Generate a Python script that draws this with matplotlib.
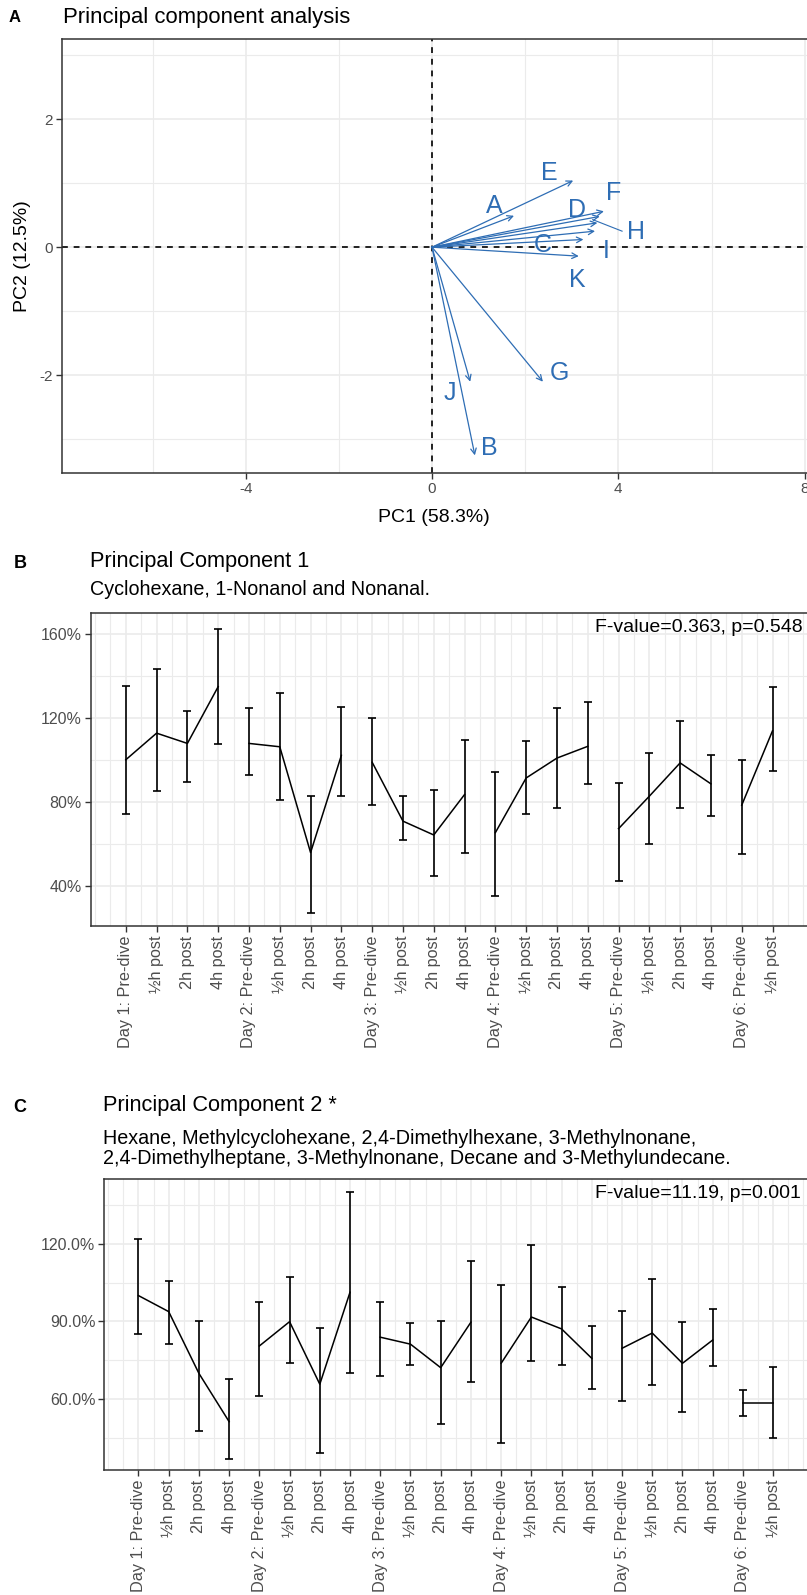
import numpy as np
import matplotlib
matplotlib.use("Agg")
import matplotlib.pyplot as plt
from matplotlib.ticker import FuncFormatter

plt.rcParams['font.family'] = ['Liberation Sans', 'DejaVu Sans']
plt.rcParams['axes.unicode_minus'] = False

# ---------------- data ----------------
# Panel A: PCA loadings (arrow tips) and label positions
var_names = ['A', 'B', 'C', 'D', 'E', 'F', 'G', 'H', 'I', 'J', 'K']
pc1_load = [1.76, 0.92, 3.25, 3.60, 3.03, 3.69, 2.38, 3.55, 3.50, 0.82, 3.15]
pc2_load = [0.49, -3.25, 0.12, 0.48, 1.04, 0.56, -2.10, 0.38, 0.25, -2.10, -0.14]
lab_x = [1.33, 1.22, 2.38, 3.11, 2.51, 3.90, 2.73, 4.38, 3.73, 0.39, 3.11]
lab_y = [0.64, -3.13, 0.03, 0.58, 1.16, 0.84, -1.97, 0.23, -0.06, -2.27, -0.52]

# Panels B & C: time points
time_labels = ['Day 1: Pre-dive', '½h post', '2h post', '4h post',
               'Day 2: Pre-dive', '½h post', '2h post', '4h post',
               'Day 3: Pre-dive', '½h post', '2h post', '4h post',
               'Day 4: Pre-dive', '½h post', '2h post', '4h post',
               'Day 5: Pre-dive', '½h post', '2h post', '4h post',
               'Day 6: Pre-dive', '½h post']
day_group = [1, 1, 1, 1, 2, 2, 2, 2, 3, 3, 3, 3, 4, 4, 4, 4, 5, 5, 5, 5, 6, 6]

pc1_mean = [100.1, 112.8, 107.9, 135.0, 107.9, 106.3, 55.8, 102.2, 98.9, 70.8, 64.2, 83.5,
            65.3, 91.4, 100.9, 106.5, 67.2, 82.7, 98.6, 88.6, 78.4, 113.9]
pc1_low = [74.0, 85.1, 89.5, 107.7, 92.7, 81.1, 27.2, 83.0, 78.6, 61.8, 44.4, 55.8,
           35.2, 74.0, 77.3, 88.3, 42.3, 59.8, 77.2, 73.2, 55.3, 94.8]
pc1_high = [135.5, 143.4, 123.3, 162.7, 124.7, 131.8, 82.6, 125.3, 119.9, 82.6, 85.7, 109.6,
            94.3, 109.0, 124.7, 127.7, 89.1, 103.3, 118.8, 102.5, 100.0, 134.8]

pc2_mean = [100.0, 93.8, 69.9, 51.2, 80.5, 89.9, 65.7, 101.3, 83.9, 81.2, 72.1, 89.7,
            73.8, 91.7, 87.1, 75.7, 79.6, 85.5, 73.8, 82.8, 58.6, 58.6]
pc2_low = [85.0, 81.3, 47.6, 36.9, 61.2, 73.9, 39.1, 70.2, 69.0, 73.3, 50.2, 66.5,
           42.8, 74.5, 73.3, 63.9, 59.1, 65.4, 54.8, 72.8, 53.3, 44.8]
pc2_high = [121.9, 105.8, 90.2, 67.7, 97.5, 107.1, 87.6, 139.9, 97.5, 89.2, 90.2, 113.3,
            104.0, 119.7, 103.5, 88.1, 93.9, 106.5, 89.8, 95.0, 63.4, 72.3]

# ---------------- layout helpers ----------------
W, H = 807, 1595
fig = plt.figure(figsize=(W / 100, H / 100), dpi=100)


def rect(left, top, right, bottom):
    return [left / W, 1 - bottom / H, (right - left) / W, (bottom - top) / H]


def ftext(x, y, s, **kw):
    return fig.text(x / W, 1 - y / H, s, **kw)


GRID = '#EBEBEB'
TICKC = '#4D4D4D'
BLUE = '#2E6DB4'


def style_axes(ax):
    for side in ['left', 'bottom', 'top']:
        ax.spines[side].set_color('#333333')
        ax.spines[side].set_linewidth(1.1)
    ax.spines['right'].set_visible(False)
    ax.tick_params(which='major', direction='out', length=4, width=1.0,
                   color='#333333', labelcolor=TICKC)
    ax.tick_params(which='minor', length=0)
    ax.grid(which='major', color=GRID, linewidth=1.2, zorder=0)
    ax.grid(which='minor', color=GRID, linewidth=0.8, zorder=0)
    ax.set_axisbelow(True)


# ---------------- Panel A ----------------
axA = fig.add_axes(rect(61.7, 39, 807, 473.3))
style_axes(axA)
axA.set_xlim(-7.95, 8.05)
axA.set_ylim(-3.53, 3.25)
axA.set_xticks([-4, 0, 4, 8])
axA.set_xticks([-6, -2, 2, 6], minor=True)
axA.set_yticks([-2, 0, 2])
axA.set_yticks([-3, -1, 1, 3], minor=True)
axA.tick_params(axis='both', labelsize=11, pad=2.5)
axA.axhline(0, color='black', lw=1.2, ls=(0, (3.5, 3.5)), zorder=1)
axA.axvline(0, color='black', lw=1.2, ls=(0, (3.5, 3.5)), zorder=1)
for name, x, y, tx, ty in zip(var_names, pc1_load, pc2_load, lab_x, lab_y):
    axA.annotate('', xy=(x, y), xytext=(0, 0),
                 arrowprops=dict(arrowstyle='->', color=BLUE, lw=0.9,
                                 shrinkA=0, shrinkB=0, mutation_scale=10),
                 zorder=3)
    axA.text(tx, ty, name, color=BLUE, fontsize=18, ha='center', va='center', zorder=4)
# leader segment for H
iH = var_names.index('H')
axA.plot([pc1_load[iH] - 0.1, lab_x[iH] - 0.3], [pc2_load[iH] + 0.05, lab_y[iH] + 0.02],
         color=BLUE, lw=0.8, zorder=3)

ftext(15, 17, 'A', fontsize=12, fontweight='bold', ha='center', va='center')
ftext(63, 17, 'Principal component analysis', fontsize=15.9, ha='left', va='center')
ftext(434, 518, 'PC1 (58.3%)', fontsize=14, ha='center', va='center')
ftext(23, 256, 'PC2 (12.5%)', fontsize=14, ha='center', va='center', rotation=90)


# ---------------- Panels B & C ----------------
def series_panel(box, mean, low, high, ylim, majors, minors, fmt):
    ax = fig.add_axes(rect(*box))
    style_axes(ax)
    pos = np.arange(1, len(time_labels) + 1)
    ax.set_xlim(-0.13, 23.12)
    ax.set_ylim(*ylim)
    ax.set_xticks(pos)
    ax.set_xticklabels(time_labels, rotation=90, fontsize=11.7)
    ax.set_xticks(np.concatenate([[0], np.arange(0.5, 23.0, 1.0), [23]]), minor=True)
    ax.set_yticks(majors)
    ax.set_yticks(minors, minor=True)
    ax.yaxis.set_major_formatter(FuncFormatter(fmt))
    ax.tick_params(axis='y', labelsize=11.5, pad=2.5)
    ax.tick_params(axis='x', pad=3)
    mean = np.array(mean)
    low = np.array(low)
    high = np.array(high)
    groups = np.array(day_group)
    for g in sorted(set(day_group)):
        m = groups == g
        ax.plot(pos[m], mean[m], color='black', lw=1.1, zorder=3)
    ax.errorbar(pos, mean, yerr=[mean - low, high - mean], fmt='none',
                ecolor='black', elinewidth=1.2, capsize=2.6, capthick=1.2, zorder=3)
    return ax


axB = series_panel((91, 613.3, 807, 925.7), pc1_mean, pc1_low, pc1_high,
                   (20.9, 170), [40, 80, 120, 160], [60, 100, 140],
                   lambda v, p: f'{v:.0f}%')
ftext(20, 563, 'B', fontsize=13, fontweight='bold', ha='center', va='center')
ftext(90, 561, 'Principal Component 1', fontsize=15.7, ha='left', va='center')
ftext(90, 590, 'Cyclohexane, 1-Nonanol and Nonanal.', fontsize=14.2, ha='left', va='center')
ftext(803, 627, 'F-value=0.363, p=0.548', fontsize=14, ha='right', va='center')

axC = series_panel((104.3, 1179.3, 807, 1470), pc2_mean, pc2_low, pc2_high,
                   (32.5, 145), [60, 90, 120], [45, 75, 105, 135],
                   lambda v, p: f'{v:.1f}%')
ftext(20, 1107, 'C', fontsize=13, fontweight='bold', ha='center', va='center')
ftext(103, 1106, 'Principal Component 2 *', fontsize=15.7, ha='left', va='center')
ftext(103, 1148.5, 'Hexane, Methylcyclohexane, 2,4-Dimethylhexane, 3-Methylnonane,\n'
      '2,4-Dimethylheptane, 3-Methylnonane, Decane and 3-Methylundecane.',
      fontsize=14.2, ha='left', va='center', linespacing=1.06)
ftext(801, 1194, 'F-value=11.19, p=0.001', fontsize=14, ha='right', va='center')

fig.savefig('out.png', dpi=100, facecolor='white')
